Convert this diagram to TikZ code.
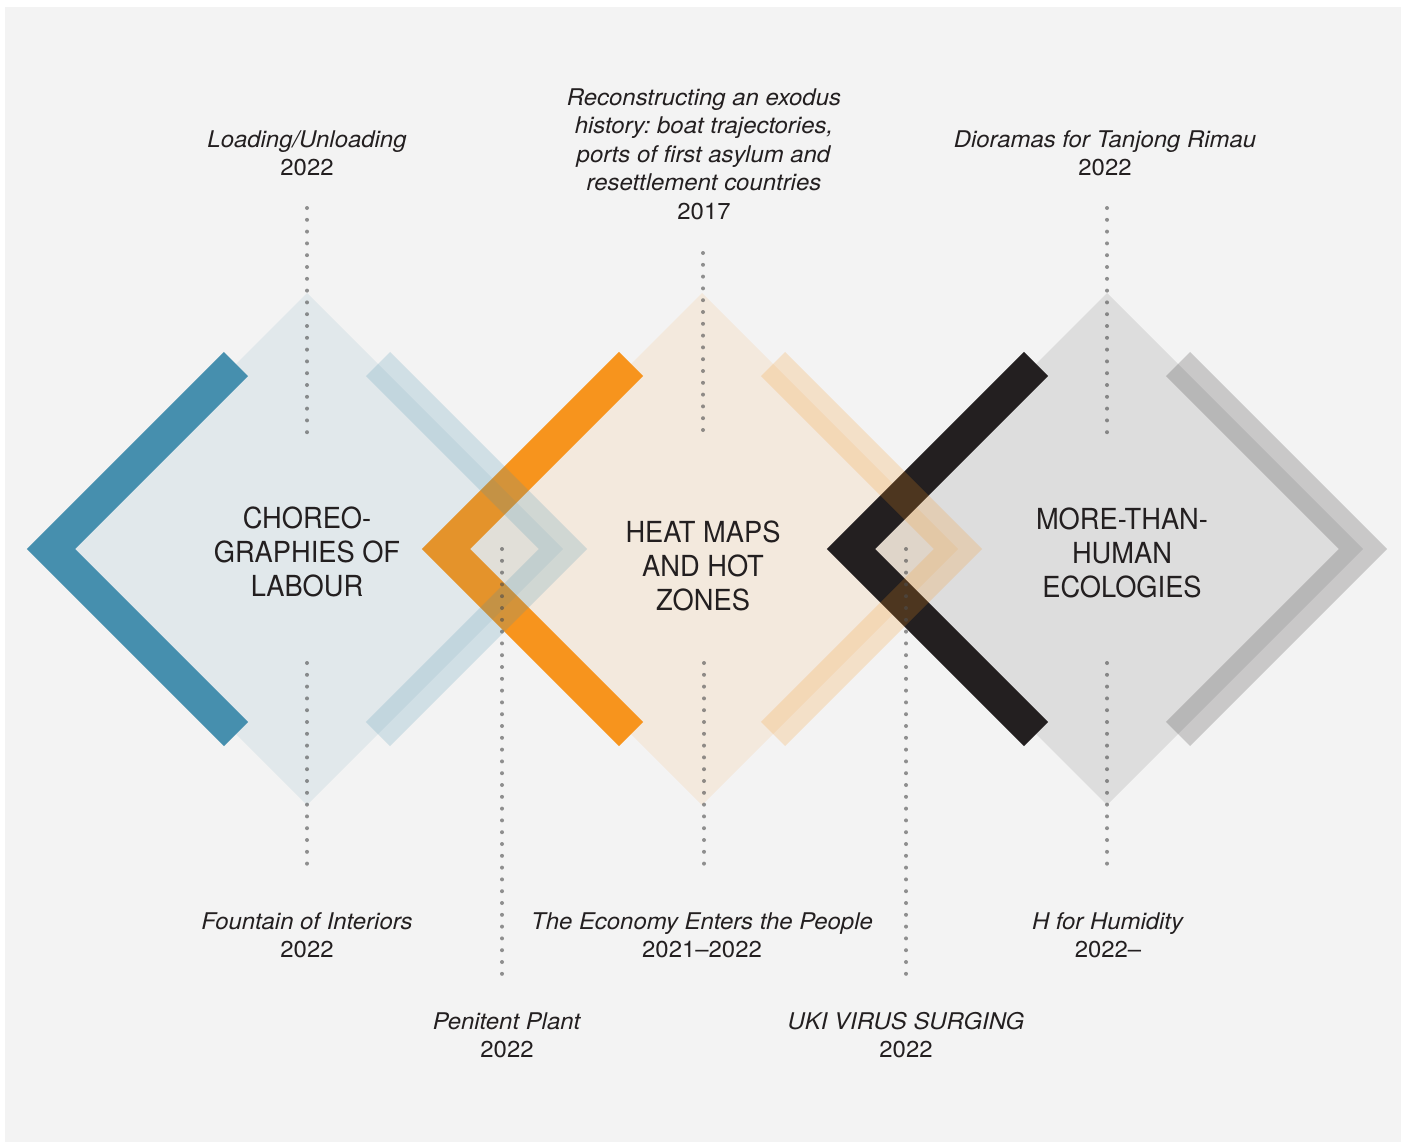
\documentclass[tikz,border=0pt]{standalone}
\usepackage{fontspec}
\setmainfont{TeX Gyre Heros}
\newfontfamily\headfont[FakeStretch=0.94]{TeX Gyre Heros}
\newfontfamily\labelfont[FakeStretch=1.04]{TeX Gyre Heros}
\usepackage{tikz}
\frenchspacing

\definecolor{bgGray}{RGB}{243,243,243}
\definecolor{labourBlue}{RGB}{70,143,174}
\definecolor{heatOrange}{RGB}{247,148,29}
\definecolor{ecoBlack}{RGB}{35,31,32}
\definecolor{inkDark}{RGB}{35,31,32}
\definecolor{dotGray}{RGB}{76,76,76}

\tikzset{
	zone/.style={fill=#1, fill opacity=0.1},
	chevron/.style={draw=#1, line width=25.5pt, line join=miter, line cap=butt},
	echo/.style={draw=#1, draw opacity=0.2, line width=25.5pt, line join=miter, line cap=butt},
	dotline/.style={draw=dotGray, draw opacity=0.6, line width=3pt, line cap=round, dash pattern=on 0pt off 8.85pt},
	heading/.style={align=center, inner sep=0pt, anchor=north, text=inkDark, font={\headfont\fontsize{21.75}{25.5}\selectfont}},
	worklabel/.style={align=center, inner sep=0pt, anchor=north, text=inkDark, font={\labelfont\fontsize{17.25}{21.4}\selectfont}},
}

\begin{document}
\begin{tikzpicture}[x=0.75pt,y=0.75pt,yscale=-1,xscale=1]
		\useasboundingbox (0,0) rectangle (1405,1142);

		%Shape: Rectangle [background]
		\fill [white] (0,0) rectangle (1405,1142);
		\fill [bgGray] (5,7) rectangle (1401,1142);

		%Shape: Diamond [ecologies]
		\fill [zone=ecoBlack] (1107,293) -- (1363,549) -- (1107,805) -- (851,549) -- cycle;
		%Shape: Diamond [heat maps]
		\fill [zone=heatOrange] (702,293) -- (958,549) -- (702,805) -- (446,549) -- cycle;
		%Straight Lines [heat maps, left]
		\draw [chevron=heatOrange] (631,364) -- (446,549) -- (631,734);
		%Shape: Diamond [labour]
		\fill [zone=labourBlue] (307,293) -- (563,549) -- (307,805) -- (51,549) -- cycle;
		%Straight Lines [labour, left]
		\draw [chevron=labourBlue] (236,364) -- (51,549) -- (236,734);
		%Straight Lines [labour, right]
		\draw [echo=labourBlue] (378,364) -- (563,549) -- (378,734);
		%Straight Lines [ecologies, left]
		\draw [chevron=ecoBlack] (1036,364) -- (851,549) -- (1036,734);
		%Straight Lines [heat maps, right]
		\draw [echo=heatOrange] (773,364) -- (958,549) -- (773,734);
		%Straight Lines [ecologies, right]
		\draw [echo=ecoBlack] (1178,364) -- (1363,549) -- (1178,734);

		%Straight Lines [dotted]
		\draw [dotline] (307,208) -- (307,438);
		\draw [dotline] (307,663) -- (307,870);
		\draw [dotline] (703,253) -- (703,438);
		\draw [dotline] (704,663) -- (704,870);
		\draw [dotline] (1107,208) -- (1107,438);
		\draw [dotline] (1107,663) -- (1107,870);
		\draw [dotline] (502,549) -- (502,982);
		\draw [dotline] (906,549) -- (906,982);

		% Text Node
		\node [heading] (labour) at (307,507) {CHOREO-\\GRAPHIES OF\\LABOUR};
		% Text Node
		\node [heading] (heatmaps) at (703,521) {HEAT MAPS\\AND HOT\\ZONES};
		% Text Node
		\node [heading] (ecologies) at (1122,508) {MORE-THAN-\\HUMAN\\ECOLOGIES};

		% Text Node
		\node [worklabel] (loading) at (307,130) {\textit{Loading/Unloading}\\2022};
		% Text Node
		\node [worklabel] (exodus) at (704,88) {\textit{Reconstructing an exodus}\\\textit{history: boat trajectories,}\\\textit{ports of first asylum and}\\\textit{resettlement countries}\\2017};
		% Text Node
		\node [worklabel] (dioramas) at (1105,130) {\textit{Dioramas for Tanjong Rimau}\\2022};
		% Text Node
		\node [worklabel] (fountain) at (307,912) {\textit{Fountain of Interiors}\\2022};
		% Text Node
		\node [worklabel] (economy) at (702,912) {\textit{The Economy Enters the People}\\2021–2022};
		% Text Node
		\node [worklabel] (humidity) at (1108,912) {\textit{H for Humidity}\\2022–};
		% Text Node
		\node [worklabel] (penitent) at (507,1012) {\textit{Penitent Plant}\\2022};
		% Text Node
		\node [worklabel] (uki) at (906,1012) {\textit{UKI VIRUS SURGING}\\2022};

	\end{tikzpicture}
\end{document}
